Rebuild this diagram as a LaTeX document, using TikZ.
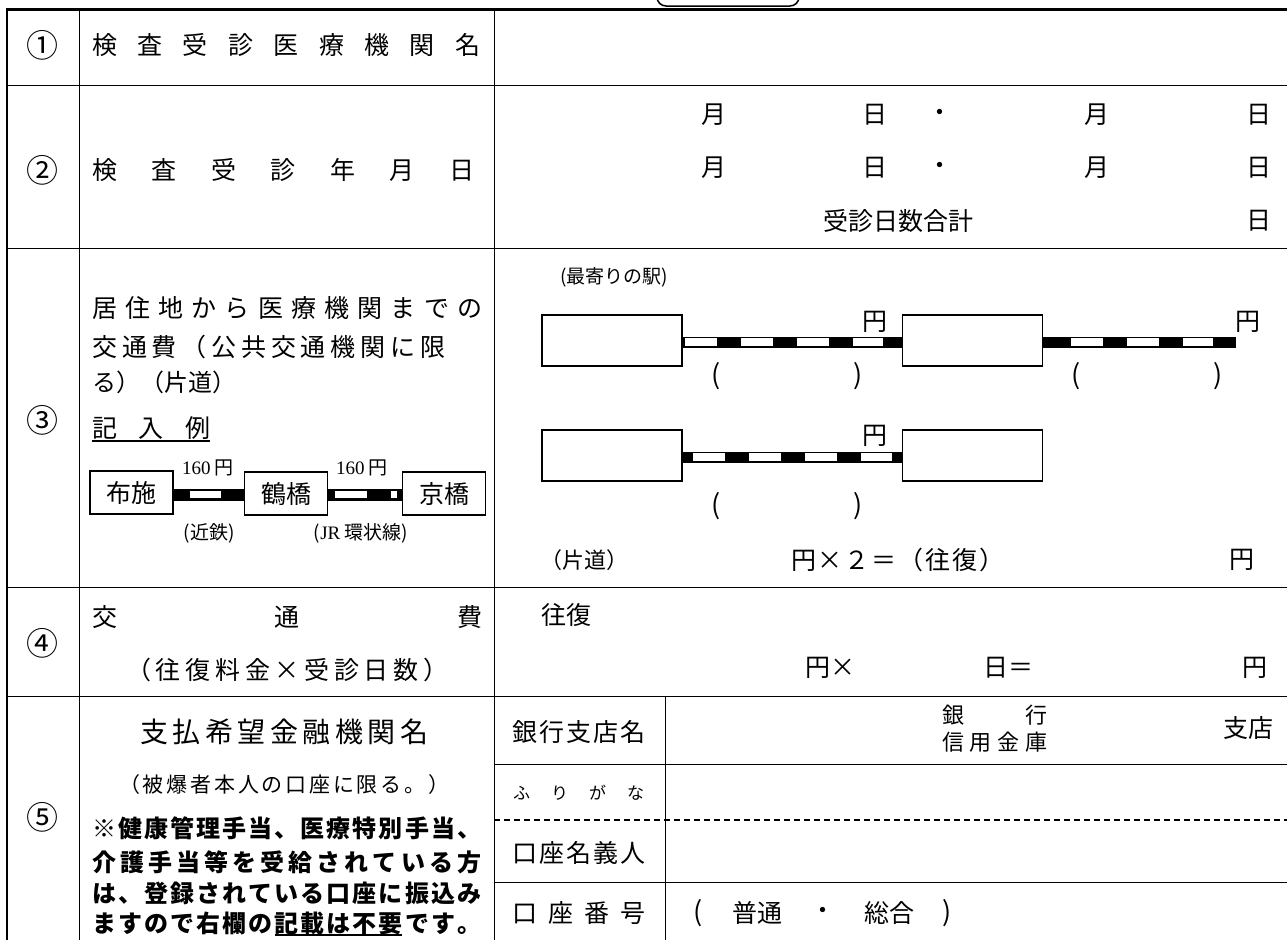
\documentclass[tikz,border=0pt]{standalone}
\usepackage{fontspec}
\setmainfont{Noto Sans CJK JP}
\newfontfamily\latf{Liberation Serif}
\newcommand\fsz[1]{\fontsize{#1}{#1}\selectfont}
\newcommand\sprd[2]{\makebox[#1][s]{\sprA#2\relax}}
\def\sprA#1{#1\sprB}
\def\sprB#1{\ifx\relax#1\else\hfil#1\expandafter\sprB\fi}
\tikzset{
  grid/.style={line width=1pt, black},
  frame/.style={line width=3pt, black},
  txt/.style={inner sep=0pt, font=\fsz{25}},
  lft/.style={txt, anchor=west},
  circ/.style={txt, font=\fsz{32}},
  small/.style={txt, font=\fsz{19}},
  par/.style={txt, font=\fsz{27}},
  bold/.style={lft, font=\fsz{24}\bfseries},
  exbox/.style={draw, line width=1.2pt, minimum width=83pt, minimum height=43pt, inner sep=0pt, font=\fsz{25}},
  sbox/.style={draw, line width=1.2pt, minimum width=140pt, minimum height=51pt, inner sep=0pt},
  railb/.style={line width=11pt, black},
  railw/.style={line width=7.5pt, white, dash pattern=on 32pt off 24pt},
  exrailb/.style={line width=12pt, black},
  exrailw/.style={line width=7.5pt, white, dash pattern=on 32pt off 24pt},
}
\begin{document}
\begin{tikzpicture}[x=1pt,y=-1pt]
\useasboundingbox (0,0) rectangle (1287,940);
% frame and grid
\draw[line width=1.5pt, rounded corners=9pt] (657,-20) rectangle (799,6);
\draw[frame] (5.5,9.5) -- (1287,9.5);
\draw[line width=2.5pt] (7,8) -- (7,940);
\draw[grid] (79,9.5) -- (79,940);
\draw[grid] (494,9.5) -- (494,940);
\draw[grid] (7,85) -- (1287,85);
\draw[grid] (7,248) -- (1287,248);
\draw[grid] (7,587) -- (1287,587);
\draw[grid] (7,696) -- (1287,696);
\draw[grid] (665,696) -- (665,940);
\draw[grid] (494,764) -- (1287,764);
\draw[line width=1.5pt, dash pattern=on 6pt off 4pt] (494,820) -- (1287,820);
\draw[grid] (494,882) -- (1287,882);

% row 1
\node[circ] (n1) at (42,45) {①};
\node[lft] (h1) at (92,45) {\sprd{388pt}{検査受診医療機関名}};

% row 2
\node[circ] (n2) at (42,170) {②};
\node[lft] (h2) at (92,170) {\sprd{382pt}{検査受診年月日}};
\node[txt] (m11) at (714,115) {月};
\node[txt] (d11) at (875,115) {日};
\node[txt] (c11) at (940,115) {・};
\node[txt] (m12) at (1097,115) {月};
\node[txt] (d12) at (1259,115) {日};
\node[txt] (m21) at (714,168) {月};
\node[txt] (d21) at (875,168) {日};
\node[txt] (c21) at (940,168) {・};
\node[txt] (m22) at (1097,168) {月};
\node[txt] (d22) at (1259,168) {日};
\node[txt] (tot) at (898,221) {受診日数合計};
\node[txt] (totd) at (1259,221) {日};

% row 3 left
\node[circ] (n3) at (43,420) {③};
\node[lft] (t31) at (92,308) {\sprd{390pt}{居住地から医療機関までの}};
\node[lft] (t32) at (92,347) {\sprd{353pt}{交通費（公共交通機関に限}};
\node[lft, font=\fsz{24}] (t33) at (92,382) {る）（片道）};
\node[lft] (ex) at (92,428) {\sprd{118pt}{記入例}};
\draw[line width=1.2pt] (92,441) -- (210,441);
\node[exbox] (fuse) at (131.5,492.5) {布施};
\node[exbox] (tsuru) at (286,493.5) {鶴橋};
\node[exbox] (kyo) at (444,493.5) {京橋};
\draw[exrailb] ([yshift=-2pt]fuse.east) -- ([yshift=-1pt]tsuru.west);
\draw[exrailw] ([xshift=16pt,yshift=-2pt]fuse.east) -- ([xshift=-23pt,yshift=-1pt]tsuru.west);
\draw[exrailb] ([yshift=-1pt]tsuru.east) -- ([yshift=-1pt]kyo.west);
\draw[exrailw] ([xshift=7pt,yshift=-1pt]tsuru.east) -- ([xshift=-5pt,yshift=-1pt]kyo.west);
\node[small] (f1) at (208,468) {{\latf 160} 円};
\node[small] (f2) at (362,468) {{\latf 160} 円};
\node[small] (l1) at (209,533) {(近鉄)};
\node[small] (l2) at (361,533) {({\latf JR} 環状線)};

% row 3 right
\node[txt, font=\fsz{19}] (near) at (614,277) {(最寄りの駅)};
\node[sbox] (a1) at (612,340.5) {};
\node[sbox] (a2) at (972.5,340.5) {};
\coordinate (a3) at (1236,342);
\draw[railb] ([yshift=-1.5pt]a1.east) -- ([yshift=-1.5pt]a2.west);
\draw[railw] ([xshift=2pt,yshift=-1.5pt]a1.east) -- ([xshift=-19pt,yshift=-1.5pt]a2.west);
\draw[railb] ([yshift=-1.5pt]a2.east) -- (a3);
\draw[railw] ([xshift=28pt,yshift=-1.5pt]a2.east) -- ([xshift=-23pt]a3);
\node[txt] (y1) at (875,322) {円};
\node[txt] (y2) at (1248,322) {円};
\node[par] (p1) at (716,376) {(};
\node[par] (p2) at (858,376) {)};
\node[par] (p3) at (1076,376) {(};
\node[par] (p4) at (1218,376) {)};
\node[sbox] (b1) at (612,455.5) {};
\node[sbox] (b2) at (972.5,455.5) {};
\draw[railb] ([yshift=-1.5pt]b1.east) -- ([yshift=-1.5pt]b2.west);
\draw[railw] ([xshift=10pt,yshift=-1.5pt]b1.east) -- ([xshift=-10pt,yshift=-1.5pt]b2.west);
\node[txt] (y3) at (875,436) {円};
\node[par] (p5) at (716,506) {(};
\node[par] (p6) at (858,506) {)};
\node[txt, font=\fsz{22}] (kata) at (584,560) {（片道）};
\node[txt] (calc) at (897.5,560) {\sprd{213pt}{円×２＝（往復）}};
\node[txt] (y4) at (1242,560) {円};

% row 4
\node[circ] (n4) at (42,643) {④};
\node[lft] (t41) at (92,617) {\sprd{390pt}{交通費}};
\node[lft] (t42) at (126,670) {\sprd{322pt}{（往復料金×受診日数）}};
\node[txt] (ofuku) at (566,615) {往復};
\node[txt] (y5) at (830,668) {円×};
\node[txt] (d5) at (1008,668) {日＝};
\node[txt] (y6) at (1255,668) {円};

% row 5
\node[circ] (n5) at (42,817) {⑤};
\node[lft, font=\fsz{28}] (t51) at (140,732) {\sprd{288pt}{支払希望金融機関名}};
\node[lft, font=\fsz{21}] (t52) at (119,785) {\sprd{330pt}{（被爆者本人の口座に限る。）}};
\node[bold] (t53) at (92,828) {\sprd{389pt}{※健康管理手当、医療特別手当、}};
\node[bold] (t54) at (92,862) {\sprd{389pt}{介護手当等を受給されている方}};
\node[bold] (t55) at (92,893) {\sprd{389pt}{は、登録されている口座に振込み}};
\node[bold] (t56) at (92,923) {\sprd{389pt}{ますので右欄の記載は不要です。}};
\draw[line width=1.3pt] (275,935) -- (402,935);
\node[lft] (k1) at (512,732) {\sprd{133pt}{銀行支店名}};
\node[lft, font=\fsz{17}] (k2) at (513,793) {\sprd{131pt}{ふりがな}};
\node[lft] (k3) at (512,853) {\sprd{133pt}{口座名義人}};
\node[lft] (k4) at (512,913) {\sprd{133pt}{口座番号}};
\node[lft, font=\fsz{22}] (bk1) at (942,715) {\sprd{105pt}{銀行}};
\node[lft, font=\fsz{22}] (bk2) at (942,742) {\sprd{105pt}{信用金庫}};
\node[txt] (shiten) at (1248,728) {支店};
\node[par] (q1) at (698,913) {(};
\node[txt] (q2) at (757,913) {普通};
\node[txt] (q3) at (823,913) {・};
\node[txt] (q4) at (889,913) {総合};
\node[par] (q5) at (947,913) {)};
\end{tikzpicture}
\end{document}
